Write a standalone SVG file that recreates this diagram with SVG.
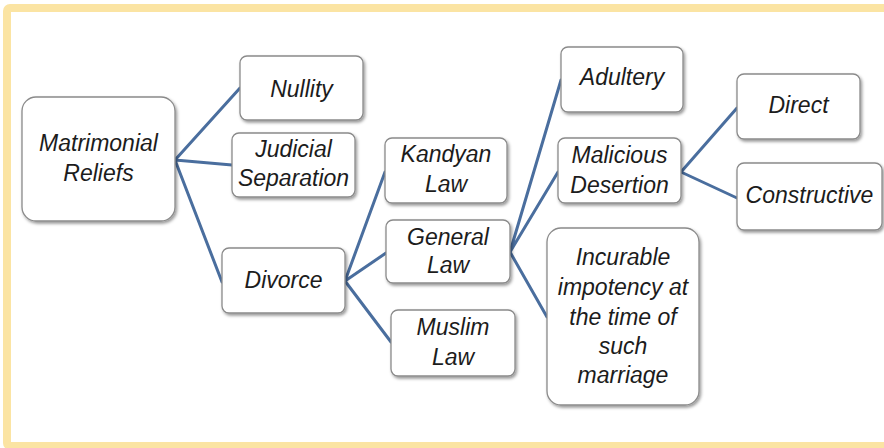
<svg xmlns="http://www.w3.org/2000/svg" width="884" height="448" viewBox="0 0 884 448">
<defs>
<filter id="sh" x="-10%" y="-10%" width="130%" height="130%">
<feDropShadow dx="1.5" dy="2" stdDeviation="1.5" flood-color="#000" flood-opacity="0.4"/>
</filter>
<style>
.box{fill:#fff;stroke:#8a8a8a;stroke-width:1.3;filter:url(#sh)}
.t{font-family:"Liberation Sans",Arial,sans-serif;font-style:italic;font-size:23px;fill:#1c1c1c;text-anchor:middle}
.c{stroke:#4a6e9e;stroke-width:3;fill:none;stroke-linecap:round}
</style>
</defs>
<rect x="0" y="0" width="884" height="448" fill="#fff"/>
<rect x="7" y="8" width="900" height="438" fill="#fff" stroke="#fbe4a3" stroke-width="8" rx="3"/>
<g id="connectors">
<path class="c" d="M175 160 L240 88 M175 160 L232 165 M175 160 L222 282"/>
<path class="c" d="M345 281 L385 172 M345 281 L386 253 M345 281 L391 342"/>
<path class="c" d="M510 252 L561 80 M510 252 L558 172 M510 252 L547 317"/>
<path class="c" d="M681 172 L737 108 M681 172 L737 198"/>
</g>
<g id="matrimonial">
<rect class="box" x="22" y="97" width="153" height="124" rx="14"/>
<text class="t" x="98.5" y="151">Matrimonial</text>
<text class="t" x="98.5" y="181">Reliefs</text>
</g>
<g id="nullity">
<rect class="box" x="240" y="56" width="123" height="64" rx="7"/>
<text class="t" x="301.5" y="97">Nullity</text>
</g>
<g id="judicial">
<rect class="box" x="232" y="133" width="123" height="64" rx="7"/>
<text class="t" x="293.5" y="157">Judicial</text>
<text class="t" x="293.5" y="186">Separation</text>
</g>
<g id="divorce">
<rect class="box" x="222" y="248" width="123" height="65" rx="7"/>
<text class="t" x="283.5" y="288">Divorce</text>
</g>
<g id="kandyan">
<rect class="box" x="385" y="138" width="122" height="65" rx="7"/>
<text class="t" x="446" y="162">Kandyan</text>
<text class="t" x="446" y="192">Law</text>
</g>
<g id="general">
<rect class="box" x="386" y="220" width="124" height="63" rx="7"/>
<text class="t" x="448" y="245">General</text>
<text class="t" x="448" y="273">Law</text>
</g>
<g id="muslim">
<rect class="box" x="391" y="310" width="124" height="66" rx="7"/>
<text class="t" x="453" y="335">Muslim</text>
<text class="t" x="453" y="365">Law</text>
</g>
<g id="adultery">
<rect class="box" x="561" y="47" width="122" height="65" rx="7"/>
<text class="t" x="622" y="85">Adultery</text>
</g>
<g id="malicious">
<rect class="box" x="558" y="138" width="123" height="65" rx="7"/>
<text class="t" x="619.5" y="163">Malicious</text>
<text class="t" x="619.5" y="193">Desertion</text>
</g>
<g id="incurable">
<rect class="box" x="547" y="228" width="152" height="177" rx="14"/>
<text class="t" x="623" y="265">Incurable</text>
<text class="t" x="623" y="295">impotency at</text>
<text class="t" x="623" y="325">the time of</text>
<text class="t" x="623" y="354">such</text>
<text class="t" x="623" y="383">marriage</text>
</g>
<g id="direct">
<rect class="box" x="737" y="74" width="123" height="65" rx="7"/>
<text class="t" x="798.5" y="113">Direct</text>
</g>
<g id="constructive">
<rect class="box" x="737" y="163" width="145" height="67" rx="7"/>
<text class="t" x="809.5" y="203">Constructive</text>
</g>
</svg>
